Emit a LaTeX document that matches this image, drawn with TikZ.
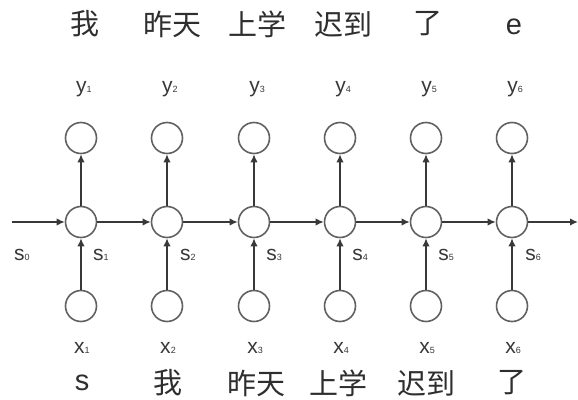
\documentclass[tikz,border=0pt]{standalone}
\usepackage{fontspec}
\setmainfont{Liberation Sans}
\newfontfamily\cjk{Noto Sans CJK SC}
\usetikzlibrary{arrows.meta}
\newcommand{\lbl}[2]{#1{\fontsize{9}{9}\selectfont #2}}

\begin{document}
\begin{tikzpicture}[x=1pt,y=-1pt]
\tikzstyle{every node}=[inner sep=0pt];
\tikzstyle{cell}=[draw=black!62, line width=1.6pt, shape=circle, minimum size=31pt];
\tikzstyle{arr}=[draw=black!78, line width=1.8pt, -{Latex[length=8pt,width=7.5pt]}];
\tikzstyle{word}=[font=\cjk\fontsize{29}{29}\selectfont, text=black!82];
\tikzstyle{var}=[font=\fontsize{21}{21}\selectfont, text=black!78, anchor=base];

\useasboundingbox (0,0) rectangle (578,399);

% outputs
\draw (81,138) node[cell] (y1) {};
\draw (167,138) node[cell] (y2) {};
\draw (254,138) node[cell] (y3) {};
\draw (340,138) node[cell] (y4) {};
\draw (426,138) node[cell] (y5) {};
\draw (512,138) node[cell] (y6) {};

% hidden states
\draw (81,222) node[cell] (h1) {};
\draw (167,222) node[cell] (h2) {};
\draw (254,222) node[cell] (h3) {};
\draw (340,222) node[cell] (h4) {};
\draw (426,222) node[cell] (h5) {};
\draw (512,222) node[cell] (h6) {};

% inputs
\draw (81,306) node[cell] (x1) {};
\draw (167,306) node[cell] (x2) {};
\draw (254,306) node[cell] (x3) {};
\draw (340,306) node[cell] (x4) {};
\draw (426,306) node[cell] (x5) {};
\draw (512,306) node[cell] (x6) {};

\coordinate (start) at (12,222);
\coordinate (stop) at (578,222);

\draw[arr] (start) -- (h1);
\draw[arr] (h1) -- (h2);
\draw[arr] (h2) -- (h3);
\draw[arr] (h3) -- (h4);
\draw[arr] (h4) -- (h5);
\draw[arr] (h5) -- (h6);
\draw[arr] (h6) -- (stop);

\draw[arr] (x1) -- (h1);
\draw[arr] (x2) -- (h2);
\draw[arr] (x3) -- (h3);
\draw[arr] (x4) -- (h4);
\draw[arr] (x5) -- (h5);
\draw[arr] (x6) -- (h6);

\draw[arr] (h1) -- (y1);
\draw[arr] (h2) -- (y2);
\draw[arr] (h3) -- (y3);
\draw[arr] (h4) -- (y4);
\draw[arr] (h5) -- (y5);
\draw[arr] (h6) -- (y6);

% labels
\node[var] (ly1) at (84,92) {\lbl{y}{1}};
\node[var] (ly2) at (170,92) {\lbl{y}{2}};
\node[var] (ly3) at (257,92) {\lbl{y}{3}};
\node[var] (ly4) at (343,92) {\lbl{y}{4}};
\node[var] (ly5) at (429,92) {\lbl{y}{5}};
\node[var] (ly6) at (515,92) {\lbl{y}{6}};

\node[var] (lx1) at (82,353) {\lbl{x}{1}};
\node[var] (lx2) at (168,353) {\lbl{x}{2}};
\node[var] (lx3) at (255,353) {\lbl{x}{3}};
\node[var] (lx4) at (341,353) {\lbl{x}{4}};
\node[var] (lx5) at (427,353) {\lbl{x}{5}};
\node[var] (lx6) at (513,353) {\lbl{x}{6}};

\node[var] (ls0) at (22,260) {\lbl{s}{0}};
\node[var] (ls1) at (101,260) {\lbl{s}{1}};
\node[var] (ls2) at (188,260) {\lbl{s}{2}};
\node[var] (ls3) at (274,260) {\lbl{s}{3}};
\node[var] (ls4) at (360,260) {\lbl{s}{4}};
\node[var] (ls5) at (446,260) {\lbl{s}{5}};
\node[var] (ls6) at (533,260) {\lbl{s}{6}};

% words
\node[word] (t1) at (85,24) {我};
\node[word] (t2) at (172,24) {昨天};
\node[word] (t3) at (257,24) {上学};
\node[word] (t4) at (343,24) {迟到};
\node[word] (t5) at (428,24) {了};
\node[word, font=\fontsize{29}{29}\selectfont] (t6) at (514,27) {e};

\node[word, font=\fontsize{29}{29}\selectfont] (b1) at (82,383) {s};
\node[word] (b2) at (168,383) {我};
\node[word] (b3) at (256,383) {昨天};
\node[word] (b4) at (338,383) {上学};
\node[word] (b5) at (426,383) {迟到};
\node[word] (b6) at (512,383) {了};

\end{tikzpicture}
\end{document}
